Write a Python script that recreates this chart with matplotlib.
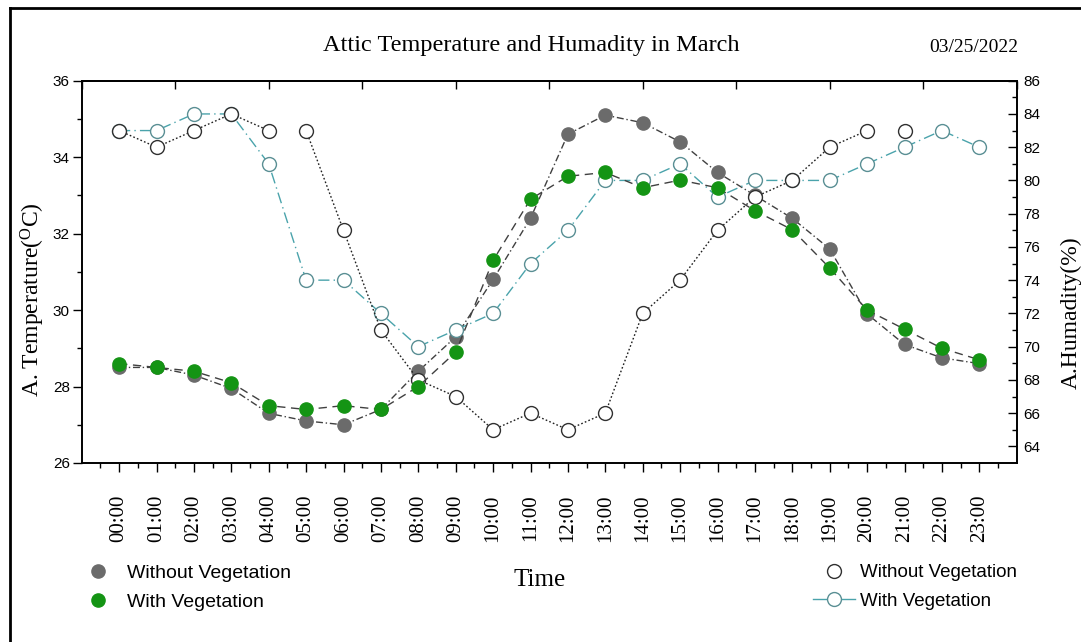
import numpy as np
import matplotlib
matplotlib.use("Agg")
import matplotlib.pyplot as plt
from matplotlib.lines import Line2D

plt.rcParams['font.family'] = ['Liberation Sans', 'DejaVu Sans']
plt.rcParams['mathtext.fontset'] = 'custom'
plt.rcParams['mathtext.rm'] = 'Liberation Serif'
plt.rcParams['mathtext.it'] = 'Liberation Serif:italic'

# ---------------- data ----------------
hours = ["00:00", "01:00", "02:00", "03:00", "04:00", "05:00", "06:00", "07:00",
         "08:00", "09:00", "10:00", "11:00", "12:00", "13:00", "14:00", "15:00",
         "16:00", "17:00", "18:00", "19:00", "20:00", "21:00", "22:00", "23:00"]

temp_without = [28.5, 28.5, 28.3, 27.95, 27.3, 27.1, 27.0, 27.4, 28.4, 29.3, 30.8, 32.4,
                34.6, 35.1, 34.9, 34.4, 33.6, 33.0, 32.4, 31.6, 29.9, 29.1, 28.75, 28.6]
temp_with = [28.6, 28.5, 28.4, 28.1, 27.5, 27.4, 27.5, 27.4, 28.0, 28.9, 31.3, 32.9,
             33.5, 33.6, 33.2, 33.4, 33.2, 32.6, 32.1, 31.1, 30.0, 29.5, 29.0, 28.7]

hum_without = [83, 82, 83, 84, 83, 83, 77, 71, 68, 67, 65, 66,
               65, 66, 72, 74, 77, 79, 80, 82, 83, 83, np.nan, np.nan]
hum_with = [83, 83, 84, 84, 81, 74, 74, 72, 70, 71, 72, 75,
            77, 80, 80, 81, 79, 80, 80, 80, 81, 82, 83, 82]

# connecting-line runs of the "without vegetation" humidity series (gaps in the original)
hum_without_runs = [(0, 4), (5, 20), (21, 21)]

title = "Attic Temperature and Humadity in March"
date_text = "03/25/2022"

# ---------------- figure ----------------
W, H = 1081, 642
fig = plt.figure(figsize=(W / 100, H / 100), dpi=100)
fig.patch.set_facecolor('white')

L, R, T, B = 81.7, 1016.7, 80.7, 463.0
pos = [L / W, 1 - B / H, (R - L) / W, (B - T) / H]

x = np.arange(len(hours))

ax = fig.add_axes(pos)                 # temperature axis (bottom layer)
ax2 = ax.twinx()                       # humidity axis
ax3 = fig.add_axes(pos, sharex=ax, sharey=ax)   # top layer for green series
ax3.axis('off')
ax3.patch.set_visible(False)

ax.set_zorder(0)
ax2.set_zorder(1)
ax3.set_zorder(2)
ax2.patch.set_visible(False)

line_grey = '#404040'
c_gray = '#6b6b6b'
c_green = '#149414'
c_teal = '#4aa3ab'

# gray filled: temperature without vegetation
ax.plot(x, temp_without, color=line_grey, lw=1.0, linestyle=(0, (5, 2, 1, 2)),
        marker='o', ms=9.5, mfc=c_gray, mec=c_gray, zorder=3)

# humidity with vegetation (teal dash-dot)
ax2.plot(x, hum_with, color=c_teal, lw=1.0, linestyle=(0, (8, 3, 1, 3)),
         marker='o', ms=10, mfc='white', mec='#5a8f94', mew=1.0, zorder=3)

# humidity without vegetation (black dotted, with gaps)
for a, b in hum_without_runs:
    ax2.plot(x[a:b + 1], hum_without[a:b + 1], color='#202020', lw=1.0,
             linestyle=(0, (1.2, 1.6)), zorder=4)
ax2.plot(x, hum_without, linestyle='none', marker='o', ms=10, mfc='white',
         mec='#303030', mew=1.0, zorder=5)

# green filled: temperature with vegetation
ax3.plot(x, temp_with, color=line_grey, lw=1.0, linestyle=(0, (6, 4)),
         marker='o', ms=9.5, mfc=c_green, mec=c_green, zorder=3)

# ---------------- axes styling ----------------
ax.set_xlim(-1, 24)
ax.set_ylim(26, 36)
ax2.set_ylim(63, 86)

ax.set_xticks(x)
ax.set_xticklabels(hours, rotation=90, family='Liberation Serif', fontsize=15)
ax.set_xticks(np.arange(-0.5, 24, 1.0), minor=True)
ax.set_yticks(np.arange(26, 37, 2))
ax.set_yticks(np.arange(27, 36, 2), minor=True)
ax.tick_params(axis='x', which='major', direction='out', length=6.5, width=1.0, pad=16)
ax.tick_params(axis='x', which='minor', direction='out', length=3.6, width=1.0)
ax.tick_params(axis='y', which='major', direction='out', length=6.5, width=1.0,
               labelsize=11, pad=2)
ax.tick_params(axis='y', which='minor', direction='out', length=3.6, width=1.0)

ax2.set_yticks(np.arange(64, 87, 2))
ax2.set_yticks(np.arange(65, 86, 2), minor=True)
ax2.tick_params(axis='y', which='major', direction='in', length=6.5, width=1.0,
                labelsize=11, pad=5)
ax2.tick_params(axis='y', which='minor', direction='in', length=3.6, width=1.0)

# top axis: ten equal divisions, inward ticks, no labels
sec = ax.secondary_xaxis('top', functions=(lambda v: (v + 1) / 2.5, lambda u: u * 2.5 - 1))
sec.set_xticks(np.arange(0, 11, 1))
sec.set_xticklabels([])
sec.tick_params(direction='in', length=6, width=1.0)

for a_ in (ax, ax2):
    for s in a_.spines.values():
        s.set_linewidth(1.2)
sec.spines['top'].set_linewidth(1.2)

# ---------------- texts ----------------
fig.text(531 / W, 1 - 45 / H, title, ha='center', va='center',
         family='Liberation Serif', fontsize=17.5)
fig.text(1018 / W, 1 - 48 / H, date_text, ha='right', va='center',
         family='Liberation Serif', fontsize=14)
fig.text(33 / W, 1 - 300 / H, r"A. Temperature($^{\mathrm{O}}$C)", rotation=90,
         ha='center', va='center', family='Liberation Serif', fontsize=17)
fig.text(1071 / W, 1 - 313 / H, "A.Humadity(%)", rotation=90,
         ha='center', va='center', family='Liberation Serif', fontsize=17)
fig.text(540 / W, 1 - 580 / H, "Time", ha='center', va='center',
         family='Liberation Serif', fontsize=18)

# ---------------- legends ----------------
h1 = Line2D([], [], linestyle='none', marker='o', ms=9.5, mfc=c_gray, mec=c_gray)
h2 = Line2D([], [], linestyle='none', marker='o', ms=9.5, mfc=c_green, mec=c_green)
leg1 = fig.legend([h1, h2], ["Without Vegetation", "With Vegetation"],
                  loc='upper left', bbox_to_anchor=(88 / W, 1 - 564 / H),
                  frameon=False, fontsize=14, handlelength=1.0,
                  handletextpad=1.0, labelspacing=0.6, borderpad=0, borderaxespad=0)

h3 = Line2D([], [], linestyle='none', marker='o', ms=10, mfc='white', mec='#303030', mew=1.0)
h4 = Line2D([], [], color=c_teal, lw=1.0, marker='o', ms=10, mfc='white',
            mec='#5a8f94', mew=1.0)
leg2 = fig.legend([h3, h4], ["Without Vegetation", "With Vegetation"],
                  loc='upper left', bbox_to_anchor=(813 / W, 1 - 564 / H),
                  frameon=False, fontsize=13.5, handlelength=2.25,
                  handletextpad=0.26, labelspacing=0.62, borderpad=0, borderaxespad=0)

# ---------------- outer frame (top and left edges) ----------------
fig.add_artist(Line2D([10 / W, 1.0], [1 - 8 / H, 1 - 8 / H], color='black', lw=2.0,
                      transform=fig.transFigure))
fig.add_artist(Line2D([10 / W, 10 / W], [0.0, 1 - 8 / H], color='black', lw=2.0,
                      transform=fig.transFigure))

fig.savefig("out.png", dpi=100)
